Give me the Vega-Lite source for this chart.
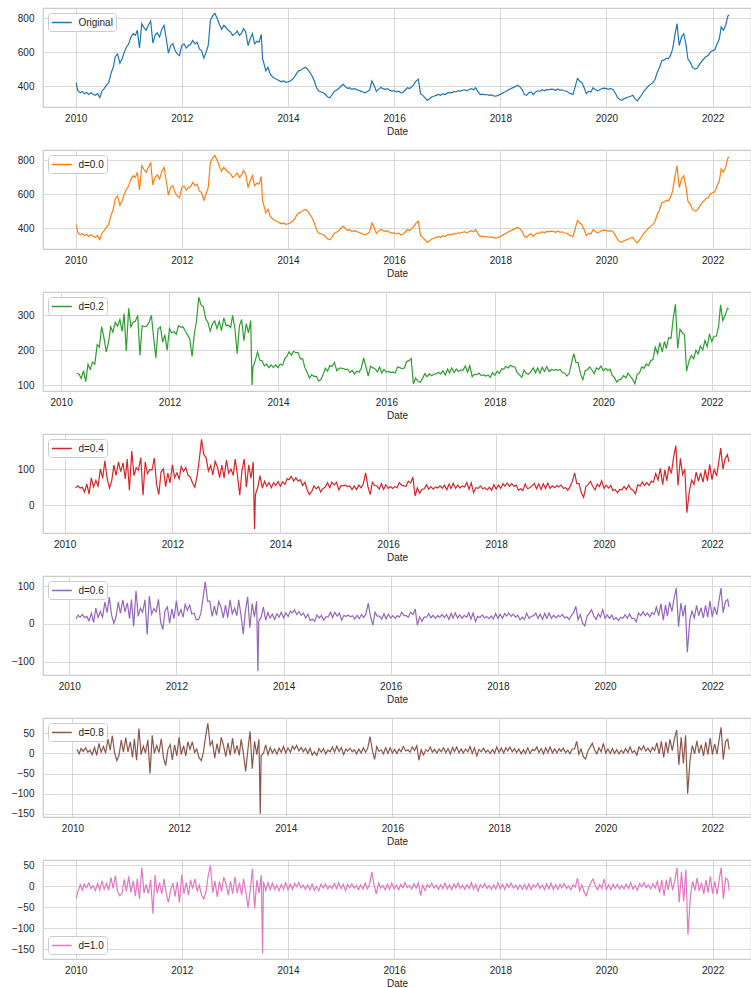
{
"$schema": "https://vega.github.io/schema/vega-lite/v6.json",
"padding": {"left": 0, "top": 7, "right": 0, "bottom": 0},
"background": "white",
"data": {"values": [
{"Date":"2010-01-04","orig":420,"d10":-28},
{"Date":"2010-01-16","orig":372,"d10":-13},
{"Date":"2010-02-01","orig":360,"d8":10,"d10":4},
{"Date":"2010-02-16","orig":368,"d6":13,"d8":-1,"d10":-9},
{"Date":"2010-03-01","orig":355,"d6":23,"d8":12,"d10":6},
{"Date":"2010-03-16","orig":362,"d4":49,"d6":18,"d8":5,"d10":-3},
{"Date":"2010-04-01","orig":350,"d4":54,"d6":25,"d8":14,"d10":8},
{"Date":"2010-04-16","orig":360,"d2":134,"d4":48,"d6":17,"d8":3,"d10":-5},
{"Date":"2010-05-01","orig":352,"d2":132,"d4":50,"d6":20,"d8":8,"d10":2},
{"Date":"2010-05-16","orig":345,"d2":119,"d4":37,"d6":8,"d8":-3,"d10":-10},
{"Date":"2010-06-01","orig":355,"d2":141,"d4":59,"d6":29,"d8":15,"d10":7},
{"Date":"2010-06-16","orig":332,"d2":110,"d4":31,"d6":4,"d8":-5,"d10":-9},
{"Date":"2010-07-01","orig":371,"d2":160,"d4":76,"d6":42,"d8":25,"d10":14},
{"Date":"2010-07-16","orig":385,"d2":145,"d4":51,"d6":17,"d8":3,"d10":-7},
{"Date":"2010-08-01","orig":405,"d2":166,"d4":69,"d6":33,"d8":17,"d10":7},
{"Date":"2010-08-16","orig":420,"d2":160,"d4":54,"d6":18,"d8":1,"d10":-9},
{"Date":"2010-09-01","orig":475,"d2":216,"d4":101,"d6":58,"d8":36,"d10":21},
{"Date":"2010-09-16","orig":510,"d2":209,"d4":75,"d6":30,"d8":8,"d10":-5},
{"Date":"2010-10-01","orig":575,"d2":268,"d4":123,"d6":71,"d8":44,"d10":26},
{"Date":"2010-10-16","orig":590,"d2":237,"d4":75,"d6":24,"d8":2,"d10":-12},
{"Date":"2010-11-01","orig":535,"d2":195,"d4":48,"d6":2,"d8":-18,"d10":-22},
{"Date":"2010-11-16","orig":560,"d2":222,"d4":67,"d6":19,"d8":-4,"d10":-17},
{"Date":"2010-12-01","orig":600,"d2":267,"d4":111,"d6":58,"d8":33,"d10":17},
{"Date":"2010-12-16","orig":630,"d2":252,"d4":83,"d6":28,"d8":3,"d10":-12},
{"Date":"2011-01-01","orig":650,"d2":280,"d4":120,"d6":64,"d8":39,"d10":24},
{"Date":"2011-01-16","orig":690,"d2":269,"d4":93,"d6":32,"d8":4,"d10":-14},
{"Date":"2011-02-01","orig":710,"d2":288,"d4":117,"d6":56,"d8":29,"d10":13},
{"Date":"2011-02-16","orig":700,"d2":254,"d4":73,"d6":14,"d8":-10,"d10":-23},
{"Date":"2011-03-01","orig":730,"d2":305,"d4":128,"d6":65,"d8":36,"d10":18},
{"Date":"2011-03-16","orig":625,"d2":198,"d4":42,"d6":-6,"d8":-17,"d10":-30},
{"Date":"2011-04-01","orig":770,"d2":320,"d4":150,"d6":88,"d8":62,"d10":45},
{"Date":"2011-04-16","orig":745,"d2":267,"d4":82,"d6":20,"d8":-3,"d10":-16},
{"Date":"2011-05-01","orig":730,"d2":280,"d4":104,"d6":42,"d8":18,"d10":5},
{"Date":"2011-05-16","orig":760,"d2":283,"d4":97,"d6":31,"d8":1,"d10":-17},
{"Date":"2011-06-01","orig":785,"d2":300,"d4":132,"d6":64,"d8":34,"d10":16},
{"Date":"2011-06-16","orig":655,"d2":185,"d4":28,"d6":-28,"d8":-50,"d10":-65},
{"Date":"2011-07-01","orig":700,"d2":270,"d4":120,"d6":74,"d8":45,"d10":27},
{"Date":"2011-07-16","orig":715,"d2":268,"d4":88,"d6":26,"d8":0,"d10":-16},
{"Date":"2011-08-01","orig":690,"d2":269,"d4":99,"d6":41,"d8":20,"d10":9},
{"Date":"2011-08-16","orig":735,"d2":280,"d4":97,"d6":32,"d8":2,"d10":-18},
{"Date":"2011-09-01","orig":760,"d2":300,"d4":131,"d6":65,"d8":36,"d10":18},
{"Date":"2011-09-16","orig":680,"d2":237,"d4":58,"d6":5,"d8":-11,"d10":-17},
{"Date":"2011-10-01","orig":595,"d2":178,"d4":30,"d6":-15,"d8":-30,"d10":-38},
{"Date":"2011-10-16","orig":640,"d2":261,"d4":92,"d6":36,"d8":9,"d10":-9},
{"Date":"2011-11-01","orig":650,"d2":267,"d4":101,"d6":45,"d8":22,"d10":8},
{"Date":"2011-11-16","orig":610,"d2":223,"d4":52,"d6":2,"d8":-16,"d10":-24},
{"Date":"2011-12-01","orig":590,"d2":244,"d4":89,"d6":40,"d8":21,"d10":11},
{"Date":"2011-12-16","orig":580,"d2":200,"d4":62,"d6":14,"d8":-6,"d10":-38},
{"Date":"2012-01-01","orig":640,"d2":262,"d4":112,"d6":62,"d8":40,"d10":28},
{"Date":"2012-01-16","orig":650,"d2":250,"d4":77,"d6":21,"d8":-3,"d10":-17},
{"Date":"2012-02-01","orig":625,"d2":253,"d4":90,"d6":38,"d8":19,"d10":9},
{"Date":"2012-02-16","orig":640,"d2":246,"d4":73,"d6":18,"d8":-6,"d10":-21},
{"Date":"2012-03-01","orig":645,"d2":270,"d4":108,"d6":52,"d8":29,"d10":16},
{"Date":"2012-03-16","orig":670,"d2":266,"d4":94,"d6":36,"d8":10,"d10":-6},
{"Date":"2012-04-01","orig":650,"d2":267,"d4":104,"d6":50,"d8":29,"d10":18},
{"Date":"2012-04-16","orig":660,"d2":256,"d4":83,"d6":26,"d8":2,"d10":-12},
{"Date":"2012-05-01","orig":620,"d2":244,"d4":79,"d6":29,"d8":11,"d10":3},
{"Date":"2012-05-16","orig":610,"d2":234,"d4":62,"d6":11,"d8":-10,"d10":-21},
{"Date":"2012-06-01","orig":565,"d2":182,"d4":50,"d6":12,"d8":-18,"d10":-30},
{"Date":"2012-06-16","orig":600,"d2":246,"d4":81,"d6":28,"d8":4,"d10":-12},
{"Date":"2012-07-01","orig":640,"d2":283,"d4":126,"d6":69,"d8":43,"d10":26},
{"Date":"2012-07-16","orig":790,"d2":352,"d4":182,"d6":112,"d8":75,"d10":50},
{"Date":"2012-08-01","orig":815,"d2":330,"d4":140,"d6":60,"d8":20,"d10":-15},
{"Date":"2012-08-16","orig":830,"d2":325,"d4":132,"d6":61,"d8":31,"d10":13},
{"Date":"2012-09-01","orig":800,"d2":290,"d4":95,"d6":20,"d8":-12,"d10":-25},
{"Date":"2012-09-16","orig":765,"d2":280,"d4":110,"d6":47,"d8":24,"d10":12},
{"Date":"2012-10-01","orig":735,"d2":255,"d4":84,"d6":23,"d8":0,"d10":-12},
{"Date":"2012-10-16","orig":760,"d2":275,"d4":122,"d6":60,"d8":40,"d10":22},
{"Date":"2012-11-01","orig":745,"d2":284,"d4":106,"d6":43,"d8":19,"d10":5},
{"Date":"2012-11-16","orig":730,"d2":262,"d4":77,"d6":16,"d8":-8,"d10":-21},
{"Date":"2012-12-01","orig":720,"d2":283,"d4":111,"d6":50,"d8":26,"d10":12},
{"Date":"2012-12-16","orig":700,"d2":256,"d4":76,"d6":17,"d8":-5,"d10":-17},
{"Date":"2013-01-01","orig":710,"d2":293,"d4":125,"d6":64,"d8":38,"d10":23},
{"Date":"2013-01-16","orig":725,"d2":271,"d4":89,"d6":27,"d8":0,"d10":-16},
{"Date":"2013-02-01","orig":700,"d2":272,"d4":100,"d6":42,"d8":20,"d10":9},
{"Date":"2013-02-16","orig":715,"d2":265,"d4":83,"d6":22,"d8":-5,"d10":-21},
{"Date":"2013-03-01","orig":740,"d2":300,"d4":128,"d6":64,"d8":35,"d10":18},
{"Date":"2013-03-16","orig":720,"d2":265,"d4":85,"d6":25,"d8":2,"d10":-11},
{"Date":"2013-04-01","orig":640,"d2":190,"d4":28,"d6":-27,"d8":-45,"d10":-50},
{"Date":"2013-04-16","orig":680,"d2":270,"d4":96,"d6":36,"d8":8,"d10":-9},
{"Date":"2013-05-01","orig":710,"d2":288,"d4":128,"d6":72,"d8":55,"d10":42},
{"Date":"2013-05-16","orig":650,"d2":227,"d4":50,"d6":-10,"d8":-38,"d10":-52},
{"Date":"2013-06-01","orig":665,"d2":276,"d4":112,"d6":54,"d8":30,"d10":15},
{"Date":"2013-06-16","orig":660,"d2":250,"d4":75,"d6":19,"d8":-3,"d10":-16},
{"Date":"2013-07-01","orig":705,"d2":285,"d4":120,"d6":60,"d8":35,"d10":27},
{"Date":"2013-07-10","orig":560,"d2":100,"d4":-65,"d6":-125,"d8":-150,"d10":-160},
{"Date":"2013-07-16","orig":545,"d2":150,"d4":30,"d6":8,"d8":-5,"d10":12},
{"Date":"2013-08-01","orig":490,"d2":171,"d4":50,"d6":18,"d8":0,"d10":-10},
{"Date":"2013-08-16","orig":510,"d2":195,"d4":82,"d6":45,"d8":21,"d10":9},
{"Date":"2013-09-01","orig":470,"d2":171,"d4":48,"d6":10,"d8":-3,"d10":-8},
{"Date":"2013-09-16","orig":455,"d2":170,"d4":67,"d6":30,"d8":15,"d10":8},
{"Date":"2013-10-01","orig":445,"d2":155,"d4":53,"d6":16,"d8":1,"d10":-7},
{"Date":"2013-10-16","orig":440,"d2":160,"d4":63,"d6":26,"d8":11,"d10":3},
{"Date":"2013-11-01","orig":432,"d2":150,"d4":49,"d6":12,"d8":-2,"d10":-10},
{"Date":"2013-11-16","orig":425,"d2":158,"d4":63,"d6":27,"d8":13,"d10":5},
{"Date":"2013-12-01","orig":430,"d2":150,"d4":55,"d6":18,"d8":3,"d10":-7},
{"Date":"2013-12-16","orig":422,"d2":158,"d4":66,"d6":31,"d8":17,"d10":9},
{"Date":"2014-01-01","orig":425,"d2":150,"d4":53,"d6":16,"d8":1,"d10":-8},
{"Date":"2014-01-16","orig":430,"d2":160,"d4":65,"d6":29,"d8":14,"d10":5},
{"Date":"2014-02-01","orig":440,"d2":157,"d4":58,"d6":20,"d8":3,"d10":-7},
{"Date":"2014-02-16","orig":455,"d2":176,"d4":74,"d6":34,"d8":18,"d10":7},
{"Date":"2014-03-01","orig":475,"d2":182,"d4":71,"d6":29,"d8":10,"d10":-1},
{"Date":"2014-03-16","orig":490,"d2":195,"d4":80,"d6":38,"d8":20,"d10":9},
{"Date":"2014-04-01","orig":495,"d2":186,"d4":67,"d6":25,"d8":6,"d10":-4},
{"Date":"2014-04-16","orig":505,"d2":197,"d4":76,"d6":33,"d8":15,"d10":3},
{"Date":"2014-05-01","orig":510,"d2":193,"d4":67,"d6":23,"d8":4,"d10":-7},
{"Date":"2014-05-16","orig":500,"d2":193,"d4":71,"d6":29,"d8":13,"d10":4},
{"Date":"2014-06-01","orig":480,"d2":175,"d4":55,"d6":16,"d8":0,"d10":-8},
{"Date":"2014-06-16","orig":460,"d2":176,"d4":64,"d6":26,"d8":13,"d10":6},
{"Date":"2014-07-01","orig":430,"d2":150,"d4":44,"d6":9,"d8":-4,"d10":-9},
{"Date":"2014-07-16","orig":390,"d2":137,"d4":30,"d6":13,"d8":4,"d10":0},
{"Date":"2014-08-01","orig":370,"d2":120,"d4":38,"d6":7,"d8":-5,"d10":-10},
{"Date":"2014-08-16","orig":365,"d2":130,"d4":54,"d6":24,"d8":12,"d10":5},
{"Date":"2014-09-01","orig":360,"d2":125,"d4":46,"d6":16,"d8":3,"d10":-4},
{"Date":"2014-09-16","orig":350,"d2":125,"d4":52,"d6":23,"d8":12,"d10":6},
{"Date":"2014-10-01","orig":335,"d2":112,"d4":37,"d6":10,"d8":-1,"d10":-6},
{"Date":"2014-10-16","orig":330,"d2":115,"d4":47,"d6":19,"d8":8,"d10":2},
{"Date":"2014-11-01","orig":350,"d2":130,"d4":50,"d6":19,"d8":4,"d10":-5},
{"Date":"2014-11-16","orig":370,"d2":148,"d4":63,"d6":31,"d8":16,"d10":7},
{"Date":"2014-12-01","orig":375,"d2":140,"d4":49,"d6":17,"d8":3,"d10":-5},
{"Date":"2014-12-16","orig":385,"d2":156,"d4":64,"d6":31,"d8":18,"d10":9},
{"Date":"2015-01-01","orig":400,"d2":154,"d4":56,"d6":21,"d8":5,"d10":-5},
{"Date":"2015-01-16","orig":410,"d2":165,"d4":64,"d6":29,"d8":14,"d10":5},
{"Date":"2015-02-01","orig":395,"d2":141,"d4":43,"d6":10,"d8":-3,"d10":-10},
{"Date":"2015-02-16","orig":385,"d2":148,"d4":55,"d6":23,"d8":11,"d10":5},
{"Date":"2015-03-01","orig":390,"d2":149,"d4":54,"d6":20,"d8":6,"d10":-3},
{"Date":"2015-03-16","orig":380,"d2":147,"d4":56,"d6":24,"d8":13,"d10":6},
{"Date":"2015-04-01","orig":385,"d2":145,"d4":52,"d6":19,"d8":4,"d10":-4},
{"Date":"2015-04-16","orig":380,"d2":145,"d4":54,"d6":22,"d8":9,"d10":2},
{"Date":"2015-05-01","orig":375,"d2":136,"d4":44,"d6":13,"d8":-1,"d10":-8},
{"Date":"2015-05-16","orig":370,"d2":142,"d4":54,"d6":23,"d8":11,"d10":4},
{"Date":"2015-06-01","orig":365,"d2":132,"d4":44,"d6":14,"d8":1,"d10":-6},
{"Date":"2015-06-16","orig":360,"d2":140,"d4":56,"d6":25,"d8":14,"d10":8},
{"Date":"2015-07-01","orig":368,"d2":137,"d4":49,"d6":17,"d8":3,"d10":-6},
{"Date":"2015-07-16","orig":375,"d2":148,"d4":59,"d6":26,"d8":13,"d10":5},
{"Date":"2015-08-01","orig":430,"d2":178,"d4":90,"d6":55,"d8":42,"d10":34},
{"Date":"2015-08-16","orig":405,"d2":153,"d4":53,"d6":20,"d8":9,"d10":3},
{"Date":"2015-09-01","orig":368,"d2":126,"d4":30,"d6":-3,"d8":-15,"d10":-18},
{"Date":"2015-09-16","orig":380,"d2":154,"d4":64,"d6":31,"d8":17,"d10":8},
{"Date":"2015-10-01","orig":392,"d2":150,"d4":55,"d6":21,"d8":5,"d10":-4},
{"Date":"2015-10-16","orig":385,"d2":147,"d4":54,"d6":21,"d8":9,"d10":2},
{"Date":"2015-11-01","orig":380,"d2":138,"d4":45,"d6":13,"d8":-1,"d10":-8},
{"Date":"2015-11-16","orig":385,"d2":152,"d4":60,"d6":27,"d8":14,"d10":5},
{"Date":"2015-12-01","orig":375,"d2":135,"d4":44,"d6":13,"d8":0,"d10":-7},
{"Date":"2015-12-16","orig":370,"d2":145,"d4":57,"d6":26,"d8":14,"d10":8},
{"Date":"2016-01-01","orig":372,"d2":137,"d4":47,"d6":16,"d8":1,"d10":-6},
{"Date":"2016-01-16","orig":365,"d2":139,"d4":52,"d6":22,"d8":10,"d10":3},
{"Date":"2016-02-01","orig":370,"d2":136,"d4":47,"d6":15,"d8":0,"d10":-8},
{"Date":"2016-02-16","orig":360,"d2":137,"d4":52,"d6":22,"d8":11,"d10":5},
{"Date":"2016-03-01","orig":362,"d2":135,"d4":49,"d6":18,"d8":4,"d10":-3},
{"Date":"2016-03-16","orig":375,"d2":152,"d4":63,"d6":31,"d8":17,"d10":9},
{"Date":"2016-04-01","orig":390,"d2":150,"d4":56,"d6":22,"d8":6,"d10":-3},
{"Date":"2016-04-16","orig":385,"d2":147,"d4":54,"d6":22,"d8":9,"d10":2},
{"Date":"2016-05-01","orig":395,"d2":149,"d4":53,"d6":18,"d8":3,"d10":-6},
{"Date":"2016-05-16","orig":410,"d2":167,"d4":67,"d6":31,"d8":16,"d10":6},
{"Date":"2016-06-01","orig":430,"d2":170,"d4":62,"d6":25,"d8":7,"d10":-4},
{"Date":"2016-06-16","orig":440,"d2":176,"d4":78,"d6":40,"d8":19,"d10":9},
{"Date":"2016-07-01","orig":355,"d2":103,"d4":26,"d6":-3,"d8":-17,"d10":-22},
{"Date":"2016-07-16","orig":345,"d2":120,"d4":48,"d6":19,"d8":9,"d10":3},
{"Date":"2016-08-01","orig":330,"d2":111,"d4":34,"d6":7,"d8":-4,"d10":-10},
{"Date":"2016-08-16","orig":315,"d2":108,"d4":44,"d6":18,"d8":9,"d10":4},
{"Date":"2016-09-01","orig":325,"d2":120,"d4":46,"d6":18,"d8":5,"d10":-2},
{"Date":"2016-09-16","orig":335,"d2":133,"d4":57,"d6":28,"d8":16,"d10":8},
{"Date":"2016-10-01","orig":340,"d2":124,"d4":45,"d6":16,"d8":3,"d10":-4},
{"Date":"2016-10-16","orig":345,"d2":132,"d4":52,"d6":23,"d8":10,"d10":3},
{"Date":"2016-11-01","orig":350,"d2":127,"d4":45,"d6":15,"d8":1,"d10":-7},
{"Date":"2016-11-16","orig":345,"d2":131,"d4":51,"d6":22,"d8":11,"d10":4},
{"Date":"2016-12-01","orig":355,"d2":132,"d4":48,"d6":18,"d8":4,"d10":-5},
{"Date":"2016-12-16","orig":350,"d2":136,"d4":54,"d6":25,"d8":14,"d10":8},
{"Date":"2017-01-01","orig":358,"d2":132,"d4":47,"d6":17,"d8":2,"d10":-6},
{"Date":"2017-01-16","orig":362,"d2":141,"d4":56,"d6":25,"d8":12,"d10":4},
{"Date":"2017-02-01","orig":360,"d2":129,"d4":43,"d6":12,"d8":-1,"d10":-8},
{"Date":"2017-02-16","orig":368,"d2":146,"d4":59,"d6":28,"d8":15,"d10":6},
{"Date":"2017-03-01","orig":365,"d2":135,"d4":47,"d6":16,"d8":4,"d10":-4},
{"Date":"2017-03-16","orig":372,"d2":149,"d4":61,"d6":29,"d8":16,"d10":8},
{"Date":"2017-04-01","orig":370,"d2":136,"d4":47,"d6":16,"d8":2,"d10":-5},
{"Date":"2017-04-16","orig":375,"d2":146,"d4":56,"d6":24,"d8":11,"d10":3},
{"Date":"2017-05-01","orig":378,"d2":139,"d4":48,"d6":15,"d8":1,"d10":-7},
{"Date":"2017-05-16","orig":372,"d2":143,"d4":54,"d6":23,"d8":11,"d10":4},
{"Date":"2017-06-01","orig":380,"d2":143,"d4":51,"d6":18,"d8":4,"d10":-5},
{"Date":"2017-06-16","orig":385,"d2":155,"d4":63,"d6":30,"d8":17,"d10":9},
{"Date":"2017-07-01","orig":378,"d2":137,"d4":45,"d6":13,"d8":0,"d10":-7},
{"Date":"2017-07-16","orig":390,"d2":156,"d4":62,"d6":29,"d8":14,"d10":5},
{"Date":"2017-08-01","orig":365,"d2":124,"d4":35,"d6":6,"d8":-6,"d10":-11},
{"Date":"2017-08-16","orig":350,"d2":131,"d4":49,"d6":20,"d8":10,"d10":4},
{"Date":"2017-09-01","orig":352,"d2":130,"d4":47,"d6":17,"d8":4,"d10":-3},
{"Date":"2017-09-16","orig":348,"d2":134,"d4":54,"d6":24,"d8":13,"d10":7},
{"Date":"2017-10-01","orig":350,"d2":128,"d4":46,"d6":16,"d8":3,"d10":-5},
{"Date":"2017-10-16","orig":345,"d2":129,"d4":49,"d6":20,"d8":8,"d10":2},
{"Date":"2017-11-01","orig":348,"d2":126,"d4":43,"d6":14,"d8":0,"d10":-7},
{"Date":"2017-11-16","orig":342,"d2":129,"d4":50,"d6":21,"d8":10,"d10":4},
{"Date":"2017-12-01","orig":340,"d2":122,"d4":42,"d6":13,"d8":1,"d10":-6},
{"Date":"2017-12-16","orig":345,"d2":136,"d4":57,"d6":28,"d8":16,"d10":9},
{"Date":"2018-01-01","orig":350,"d2":128,"d4":45,"d6":15,"d8":2,"d10":-6},
{"Date":"2018-01-16","orig":358,"d2":140,"d4":56,"d6":26,"d8":13,"d10":5},
{"Date":"2018-02-01","orig":365,"d2":134,"d4":47,"d6":15,"d8":1,"d10":-7},
{"Date":"2018-02-16","orig":372,"d2":147,"d4":60,"d6":28,"d8":14,"d10":6},
{"Date":"2018-03-01","orig":380,"d2":145,"d4":53,"d6":21,"d8":6,"d10":-2},
{"Date":"2018-03-16","orig":385,"d2":154,"d4":62,"d6":29,"d8":16,"d10":8},
{"Date":"2018-04-01","orig":392,"d2":149,"d4":53,"d6":20,"d8":4,"d10":-4},
{"Date":"2018-04-16","orig":398,"d2":157,"d4":60,"d6":26,"d8":12,"d10":3},
{"Date":"2018-05-01","orig":405,"d2":153,"d4":53,"d6":18,"d8":2,"d10":-7},
{"Date":"2018-05-16","orig":395,"d2":152,"d4":56,"d6":23,"d8":11,"d10":4},
{"Date":"2018-06-01","orig":378,"d2":135,"d4":42,"d6":11,"d8":-1,"d10":-7},
{"Date":"2018-06-16","orig":350,"d2":129,"d4":46,"d6":18,"d8":9,"d10":5},
{"Date":"2018-07-01","orig":345,"d2":122,"d4":41,"d6":12,"d8":0,"d10":-7},
{"Date":"2018-07-16","orig":360,"d2":143,"d4":59,"d6":28,"d8":14,"d10":6},
{"Date":"2018-08-01","orig":365,"d2":133,"d4":46,"d6":15,"d8":0,"d10":-8},
{"Date":"2018-08-16","orig":350,"d2":131,"d4":49,"d6":20,"d8":10,"d10":4},
{"Date":"2018-09-01","orig":365,"d2":140,"d4":54,"d6":22,"d8":7,"d10":-2},
{"Date":"2018-09-16","orig":372,"d2":149,"d4":61,"d6":29,"d8":16,"d10":8},
{"Date":"2018-10-01","orig":368,"d2":135,"d4":46,"d6":15,"d8":2,"d10":-5},
{"Date":"2018-10-16","orig":378,"d2":149,"d4":59,"d6":26,"d8":12,"d10":3},
{"Date":"2018-11-01","orig":372,"d2":134,"d4":44,"d6":12,"d8":-1,"d10":-8},
{"Date":"2018-11-16","orig":380,"d2":151,"d4":60,"d6":28,"d8":14,"d10":6},
{"Date":"2018-12-01","orig":378,"d2":139,"d4":47,"d6":15,"d8":2,"d10":-6},
{"Date":"2018-12-16","orig":382,"d2":153,"d4":62,"d6":29,"d8":16,"d10":8},
{"Date":"2019-01-01","orig":380,"d2":139,"d4":47,"d6":15,"d8":1,"d10":-7},
{"Date":"2019-01-16","orig":375,"d2":144,"d4":54,"d6":23,"d8":11,"d10":4},
{"Date":"2019-02-01","orig":383,"d2":143,"d4":49,"d6":16,"d8":1,"d10":-7},
{"Date":"2019-02-16","orig":375,"d2":144,"d4":55,"d6":23,"d8":12,"d10":5},
{"Date":"2019-03-01","orig":378,"d2":142,"d4":51,"d6":19,"d8":5,"d10":-3},
{"Date":"2019-03-16","orig":372,"d2":145,"d4":56,"d6":25,"d8":13,"d10":7},
{"Date":"2019-04-01","orig":370,"d2":136,"d4":47,"d6":16,"d8":2,"d10":-5},
{"Date":"2019-04-16","orig":360,"d2":134,"d4":49,"d6":19,"d8":8,"d10":1},
{"Date":"2019-05-01","orig":355,"d2":126,"d4":42,"d6":12,"d8":-1,"d10":-8},
{"Date":"2019-05-16","orig":350,"d2":133,"d4":51,"d6":22,"d8":11,"d10":4},
{"Date":"2019-06-01","orig":400,"d2":163,"d4":67,"d6":30,"d8":11,"d10":-2},
{"Date":"2019-06-16","orig":445,"d2":190,"d4":90,"d6":47,"d8":30,"d10":20},
{"Date":"2019-07-01","orig":430,"d2":165,"d4":60,"d6":11,"d8":-2,"d10":-10},
{"Date":"2019-07-16","orig":420,"d2":164,"d4":60,"d6":25,"d8":11,"d10":4},
{"Date":"2019-08-01","orig":390,"d2":132,"d4":34,"d6":2,"d8":-8,"d10":-13},
{"Date":"2019-08-16","orig":355,"d2":115,"d4":22,"d6":-5,"d8":-14,"d10":-22},
{"Date":"2019-09-01","orig":370,"d2":141,"d4":53,"d6":21,"d8":6,"d10":-3},
{"Date":"2019-09-16","orig":365,"d2":144,"d4":58,"d6":28,"d8":15,"d10":9},
{"Date":"2019-10-01","orig":390,"d2":152,"d4":66,"d6":38,"d8":25,"d10":18},
{"Date":"2019-10-16","orig":380,"d2":144,"d4":53,"d6":21,"d8":9,"d10":2},
{"Date":"2019-11-01","orig":372,"d2":133,"d4":43,"d6":12,"d8":-1,"d10":-8},
{"Date":"2019-11-16","orig":378,"d2":149,"d4":59,"d6":27,"d8":14,"d10":5},
{"Date":"2019-12-01","orig":385,"d2":145,"d4":52,"d6":18,"d8":4,"d10":-5},
{"Date":"2019-12-16","orig":388,"d2":155,"d4":68,"d6":38,"d8":25,"d10":18},
{"Date":"2020-01-01","orig":385,"d2":141,"d4":47,"d6":15,"d8":1,"d10":-7},
{"Date":"2020-01-16","orig":382,"d2":148,"d4":56,"d6":24,"d8":11,"d10":4},
{"Date":"2020-02-01","orig":385,"d2":142,"d4":48,"d6":15,"d8":0,"d10":-8},
{"Date":"2020-02-16","orig":378,"d2":146,"d4":55,"d6":24,"d8":12,"d10":5},
{"Date":"2020-03-01","orig":360,"d2":128,"d4":41,"d6":12,"d8":0,"d10":-5},
{"Date":"2020-03-16","orig":335,"d2":122,"d4":44,"d6":17,"d8":9,"d10":5},
{"Date":"2020-04-01","orig":320,"d2":109,"d4":35,"d6":9,"d8":-1,"d10":-6},
{"Date":"2020-04-16","orig":315,"d2":115,"d4":44,"d6":18,"d8":8,"d10":2},
{"Date":"2020-05-01","orig":325,"d2":117,"d4":43,"d6":15,"d8":1,"d10":-6},
{"Date":"2020-05-16","orig":330,"d2":127,"d4":52,"d6":24,"d8":12,"d10":5},
{"Date":"2020-06-01","orig":335,"d2":121,"d4":44,"d6":15,"d8":2,"d10":-5},
{"Date":"2020-06-16","orig":340,"d2":134,"d4":56,"d6":27,"d8":16,"d10":9},
{"Date":"2020-07-01","orig":345,"d2":125,"d4":45,"d6":15,"d8":2,"d10":-6},
{"Date":"2020-07-16","orig":325,"d2":117,"d4":42,"d6":15,"d8":7,"d10":2},
{"Date":"2020-08-01","orig":312,"d2":104,"d4":32,"d6":6,"d8":-4,"d10":-9},
{"Date":"2020-08-16","orig":330,"d2":131,"d4":57,"d6":29,"d8":16,"d10":7},
{"Date":"2020-09-01","orig":350,"d2":135,"d4":53,"d6":22,"d8":8,"d10":-1},
{"Date":"2020-09-16","orig":370,"d2":152,"d4":65,"d6":33,"d8":19,"d10":9},
{"Date":"2020-10-01","orig":385,"d2":148,"d4":55,"d6":22,"d8":6,"d10":-3},
{"Date":"2020-10-16","orig":400,"d2":160,"d4":63,"d6":29,"d8":13,"d10":4},
{"Date":"2020-11-01","orig":410,"d2":156,"d4":55,"d6":19,"d8":3,"d10":-6},
{"Date":"2020-11-16","orig":420,"d2":170,"d4":67,"d6":30,"d8":15,"d10":6},
{"Date":"2020-12-01","orig":440,"d2":174,"d4":64,"d6":25,"d8":7,"d10":-4},
{"Date":"2020-12-16","orig":480,"d2":209,"d4":88,"d6":45,"d8":26,"d10":12},
{"Date":"2021-01-01","orig":510,"d2":190,"d4":70,"d6":22,"d8":-1,"d10":-15},
{"Date":"2021-01-16","orig":550,"d2":222,"d4":102,"d6":53,"d8":30,"d10":15},
{"Date":"2021-02-01","orig":555,"d2":195,"d4":57,"d6":10,"d8":-10,"d10":-22},
{"Date":"2021-02-16","orig":565,"d2":225,"d4":98,"d6":50,"d8":29,"d10":16},
{"Date":"2021-03-01","orig":560,"d2":205,"d4":68,"d6":21,"d8":1,"d10":-9},
{"Date":"2021-03-16","orig":580,"d2":236,"d4":108,"d6":58,"d8":35,"d10":22},
{"Date":"2021-04-01","orig":620,"d2":234,"d4":88,"d6":33,"d8":7,"d10":-9},
{"Date":"2021-04-16","orig":700,"d2":290,"d4":133,"d6":69,"d8":37,"d10":15},
{"Date":"2021-05-01","orig":770,"d2":332,"d4":165,"d6":95,"d8":58,"d10":45},
{"Date":"2021-05-16","orig":640,"d2":205,"d4":55,"d6":-7,"d8":-28,"d10":-38},
{"Date":"2021-06-01","orig":690,"d2":260,"d4":130,"d6":55,"d8":40,"d10":35},
{"Date":"2021-06-16","orig":710,"d2":250,"d4":85,"d6":20,"d8":-25,"d10":-35},
{"Date":"2021-07-01","orig":650,"d2":245,"d4":100,"d6":50,"d8":45,"d10":40},
{"Date":"2021-07-15","orig":560,"d2":140,"d4":-20,"d6":-75,"d8":-100,"d10":-115},
{"Date":"2021-08-01","orig":540,"d2":170,"d4":40,"d6":10,"d8":-15,"d10":-24},
{"Date":"2021-08-16","orig":510,"d2":185,"d4":70,"d6":34,"d8":20,"d10":12},
{"Date":"2021-09-01","orig":500,"d2":175,"d4":58,"d6":16,"d8":-1,"d10":-10},
{"Date":"2021-09-16","orig":505,"d2":200,"d4":92,"d6":49,"d8":31,"d10":20},
{"Date":"2021-10-01","orig":525,"d2":190,"d4":67,"d6":22,"d8":1,"d10":-11},
{"Date":"2021-10-16","orig":545,"d2":212,"d4":90,"d6":43,"d8":22,"d10":9},
{"Date":"2021-11-01","orig":560,"d2":200,"d4":64,"d6":16,"d8":-6,"d10":-18},
{"Date":"2021-11-16","orig":575,"d2":228,"d4":99,"d6":49,"d8":28,"d10":15},
{"Date":"2021-12-01","orig":580,"d2":210,"d4":68,"d6":18,"d8":-3,"d10":-15},
{"Date":"2021-12-16","orig":600,"d2":247,"d4":113,"d6":61,"d8":38,"d10":24},
{"Date":"2022-01-01","orig":610,"d2":225,"d4":71,"d6":19,"d8":-3,"d10":-17},
{"Date":"2022-01-16","orig":615,"d2":240,"d4":99,"d6":46,"d8":24,"d10":12},
{"Date":"2022-02-01","orig":650,"d2":240,"d4":81,"d6":24,"d8":-2,"d10":-19},
{"Date":"2022-02-16","orig":680,"d2":270,"d4":121,"d6":62,"d8":35,"d10":18},
{"Date":"2022-03-01","orig":750,"d2":330,"d4":158,"d6":95,"d8":65,"d10":45},
{"Date":"2022-03-16","orig":730,"d2":285,"d4":100,"d6":30,"d8":-15,"d10":-30},
{"Date":"2022-04-01","orig":760,"d2":300,"d4":130,"d6":60,"d8":30,"d10":20},
{"Date":"2022-04-16","orig":815,"d2":320,"d4":140,"d6":65,"d8":35,"d10":15},
{"Date":"2022-04-25","orig":820,"d2":318,"d4":120,"d6":45,"d8":10,"d10":-10}
]},
"config": {
  "font": "Liberation Sans",
  "view": {"stroke": "#cccccc", "strokeWidth": 1.25},
  "axis": {"labelFont": "Liberation Sans", "labelFontSize": 10, "labelColor": "#262626", "titleFont": "Liberation Sans", "titleFontSize": 10, "titleFontWeight": "normal", "titleColor": "#262626", "gridColor": "#d9d9d9", "gridWidth": 1, "ticks": false, "domain": false},
  "axisX": {"labelPadding": 6, "titlePadding": 3},
  "axisY": {"labelPadding": 9, "minExtent": 42, "maxExtent": 42},
  "legend": {"offset": 5, "symbolType": "M-1.8,0H1.8", "symbolSize": 121, "symbolStrokeWidth": 1.5, "symbolOffset": 4.4, "labelOffset": 10, "labelFont": "Liberation Sans", "labelFontSize": 10, "labelColor": "#262626", "fillColor": "#ffffff", "strokeColor": "#cccccc", "cornerRadius": 3, "padding": 3},
  "concat": {"spacing": 12}
},
"resolve": {"scale": {"color": "independent", "x": "independent", "y": "independent"}, "legend": {"color": "independent"}},
"vconcat": [
{"width": 708, "height": 99,
 "mark": {"type": "line", "strokeWidth": 1.2, "clip": true},
 "encoding": {
  "x": {"field": "Date", "type": "temporal", "scale": {"type": "utc", "domain": [{"year":2009,"month":5,"date":21,"utc":true},{"year":2022,"month":9,"date":22,"utc":true}]}, "axis": {"title": "Date", "format": "%Y", "values": [{"year":2010,"utc":true},{"year":2012,"utc":true},{"year":2014,"utc":true},{"year":2016,"utc":true},{"year":2018,"utc":true},{"year":2020,"utc":true},{"year":2022,"utc":true}]}},
  "y": {"field": "orig", "type": "quantitative", "scale": {"domain": [276, 862], "nice": false, "zero": false}, "axis": {"title": null, "values": [400, 600, 800]}},
  "color": {"datum": "Original", "type": "nominal", "scale": {"range": ["#1f77b4"]}, "legend": {"title": null, "orient": "top-left"}}
 }},
{"width": 708, "height": 99,
 "mark": {"type": "line", "strokeWidth": 1.2, "clip": true},
 "encoding": {
  "x": {"field": "Date", "type": "temporal", "scale": {"type": "utc", "domain": [{"year":2009,"month":5,"date":21,"utc":true},{"year":2022,"month":9,"date":22,"utc":true}]}, "axis": {"title": "Date", "format": "%Y", "values": [{"year":2010,"utc":true},{"year":2012,"utc":true},{"year":2014,"utc":true},{"year":2016,"utc":true},{"year":2018,"utc":true},{"year":2020,"utc":true},{"year":2022,"utc":true}]}},
  "y": {"field": "orig", "type": "quantitative", "scale": {"domain": [276, 862], "nice": false, "zero": false}, "axis": {"title": null, "values": [400, 600, 800]}},
  "color": {"datum": "d=0.0", "type": "nominal", "scale": {"range": ["#ff7f0e"]}, "legend": {"title": null, "orient": "top-left"}}
 }},
{"width": 708, "height": 99,
 "mark": {"type": "line", "strokeWidth": 1.2, "clip": true},
 "encoding": {
  "x": {"field": "Date", "type": "temporal", "scale": {"type": "utc", "domain": [{"year":2009,"month":9,"date":1,"utc":true},{"year":2022,"month":9,"date":22,"utc":true}]}, "axis": {"title": "Date", "format": "%Y", "values": [{"year":2010,"utc":true},{"year":2012,"utc":true},{"year":2014,"utc":true},{"year":2016,"utc":true},{"year":2018,"utc":true},{"year":2020,"utc":true},{"year":2022,"utc":true}]}},
  "y": {"field": "d2", "type": "quantitative", "scale": {"domain": [83, 367], "nice": false, "zero": false}, "axis": {"title": null, "values": [100, 200, 300]}},
  "color": {"datum": "d=0.2", "type": "nominal", "scale": {"range": ["#2ca02c"]}, "legend": {"title": null, "orient": "top-left"}}
 }},
{"width": 708, "height": 99,
 "mark": {"type": "line", "strokeWidth": 1.2, "clip": true},
 "encoding": {
  "x": {"field": "Date", "type": "temporal", "scale": {"type": "utc", "domain": [{"year":2009,"month":8,"date":8,"utc":true},{"year":2022,"month":9,"date":22,"utc":true}]}, "axis": {"title": "Date", "format": "%Y", "values": [{"year":2010,"utc":true},{"year":2012,"utc":true},{"year":2014,"utc":true},{"year":2016,"utc":true},{"year":2018,"utc":true},{"year":2020,"utc":true},{"year":2022,"utc":true}]}},
  "y": {"field": "d4", "type": "quantitative", "scale": {"domain": [-76, 197], "nice": false, "zero": false}, "axis": {"title": null, "values": [0, 100]}},
  "color": {"datum": "d=0.4", "type": "nominal", "scale": {"range": ["#d62728"]}, "legend": {"title": null, "orient": "top-left"}}
 }},
{"width": 708, "height": 99,
 "mark": {"type": "line", "strokeWidth": 1.2, "clip": true},
 "encoding": {
  "x": {"field": "Date", "type": "temporal", "scale": {"type": "utc", "domain": [{"year":2009,"month":7,"date":6,"utc":true},{"year":2022,"month":9,"date":22,"utc":true}]}, "axis": {"title": "Date", "format": "%Y", "values": [{"year":2010,"utc":true},{"year":2012,"utc":true},{"year":2014,"utc":true},{"year":2016,"utc":true},{"year":2018,"utc":true},{"year":2020,"utc":true},{"year":2022,"utc":true}]}},
  "y": {"field": "d6", "type": "quantitative", "scale": {"domain": [-135, 127], "nice": false, "zero": false}, "axis": {"title": null, "values": [-100, 0, 100]}},
  "color": {"datum": "d=0.6", "type": "nominal", "scale": {"range": ["#9467bd"]}, "legend": {"title": null, "orient": "top-left"}}
 }},
{"width": 708, "height": 99,
 "mark": {"type": "line", "strokeWidth": 1.2, "clip": true},
 "encoding": {
  "x": {"field": "Date", "type": "temporal", "scale": {"type": "utc", "domain": [{"year":2009,"month":6,"date":13,"utc":true},{"year":2022,"month":9,"date":22,"utc":true}]}, "axis": {"title": "Date", "format": "%Y", "values": [{"year":2010,"utc":true},{"year":2012,"utc":true},{"year":2014,"utc":true},{"year":2016,"utc":true},{"year":2018,"utc":true},{"year":2020,"utc":true},{"year":2022,"utc":true}]}},
  "y": {"field": "d8", "type": "quantitative", "scale": {"domain": [-158, 88], "nice": false, "zero": false}, "axis": {"title": null, "values": [-150, -100, -50, 0, 50]}},
  "color": {"datum": "d=0.8", "type": "nominal", "scale": {"range": ["#8c564b"]}, "legend": {"title": null, "orient": "top-left"}}
 }},
{"width": 708, "height": 99,
 "mark": {"type": "line", "strokeWidth": 1.2, "clip": true},
 "encoding": {
  "x": {"field": "Date", "type": "temporal", "scale": {"type": "utc", "domain": [{"year":2009,"month":5,"date":21,"utc":true},{"year":2022,"month":9,"date":22,"utc":true}]}, "axis": {"title": "Date", "format": "%Y", "values": [{"year":2010,"utc":true},{"year":2012,"utc":true},{"year":2014,"utc":true},{"year":2016,"utc":true},{"year":2018,"utc":true},{"year":2020,"utc":true},{"year":2022,"utc":true}]}},
  "y": {"field": "d10", "type": "quantitative", "scale": {"domain": [-173, 63], "nice": false, "zero": false}, "axis": {"title": null, "values": [-150, -100, -50, 0, 50]}},
  "color": {"datum": "d=1.0", "type": "nominal", "scale": {"range": ["#e377c2"]}, "legend": {"title": null, "orient": "bottom-left"}}
 }}
]
}
